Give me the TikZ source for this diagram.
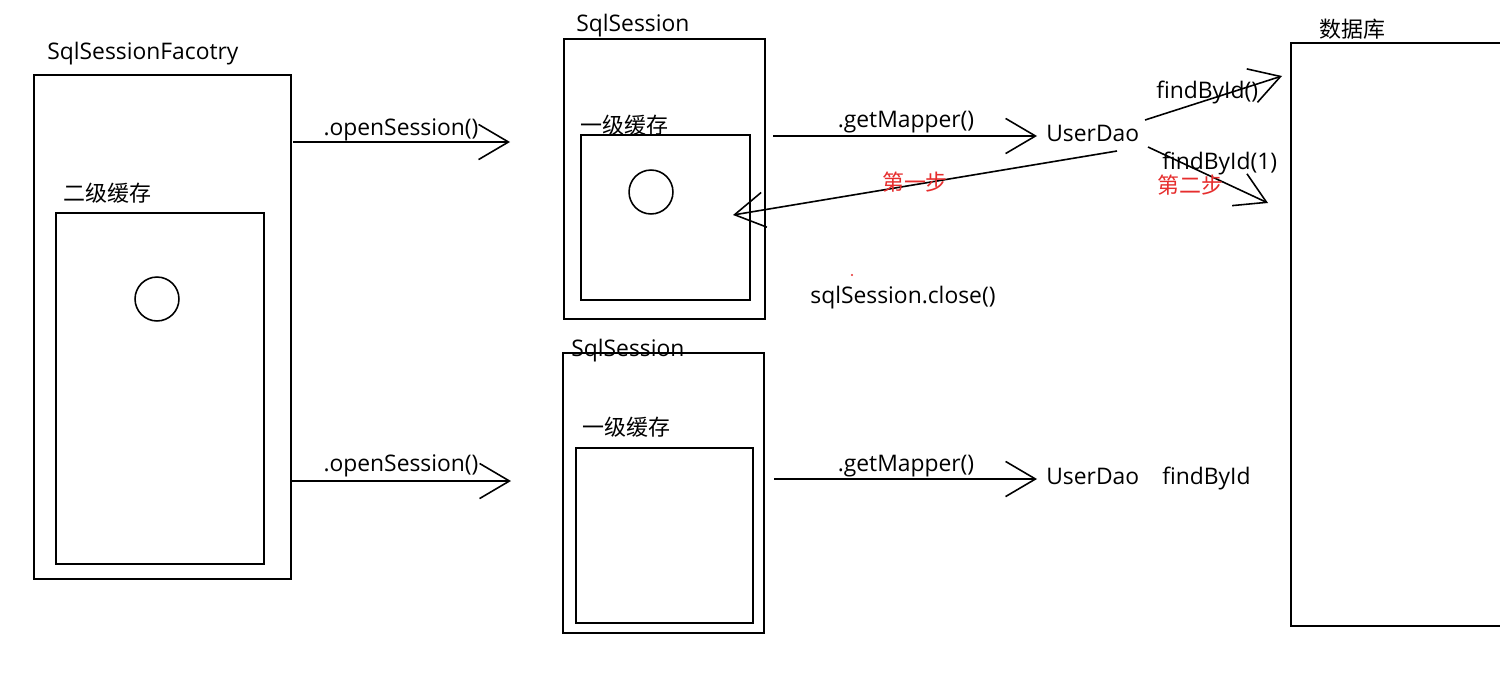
\documentclass[tikz,border=0pt]{standalone}
\usepackage{fontspec}
\setmainfont{Open Sans}
\newfontfamily\cjk{Noto Sans CJK SC}
\usetikzlibrary{arrows.meta}
\definecolor{redtxt}{RGB}{230,45,45}
\tikzset{
  box/.style={draw=black, line width=1.2pt, inner sep=0pt, anchor=north west},
  lbl/.style={inner sep=0pt, anchor=west, yshift=-0.04cm, font=\fontsize{13pt}{15pt}\selectfont},
  clbl/.style={lbl, font=\cjk\fontsize{12.5pt}{15pt}\selectfont},
  rlbl/.style={clbl, text=redtxt},
  flow/.style={draw=black, line width=0.9pt, -{Straight Barb[length=17pt, width=20pt, line width=0.9pt]}},
  cache/.style={draw=black, line width=0.9pt, circle, minimum size=25pt, inner sep=0pt}
}
\begin{document}
\begin{tikzpicture}[x=0.02cm, y=-0.02cm]
\useasboundingbox (0,0) rectangle (1500,690);
\fill[white] (0,0) rectangle (1500,690);

% SqlSessionFactory
\node[lbl] (ftitle) at (47,52) {SqlSessionFacotry};
\node[box, minimum width=257*0.02cm, minimum height=504*0.02cm] (fact) at (33,74) {};
\node[clbl] (l2title) at (63,191) {二级缓存};
\node[box, minimum width=208*0.02cm, minimum height=351*0.02cm] (l2) at (55,212) {};
\node[cache] (c2) at (157,299) {};

% Session 1
\node[lbl] (s1title) at (576,24) {SqlSession};
\node[box, minimum width=201*0.02cm, minimum height=280*0.02cm] (s1) at (563,38) {};
\node[clbl] (s1ct) at (580,123) {一级缓存};
\node[box, minimum width=169*0.02cm, minimum height=165*0.02cm] (s1c) at (580,134) {};
\node[cache] (c1) at (651,192) {};

% Session 2
\node[box, minimum width=201*0.02cm, minimum height=280*0.02cm] (s2) at (562,352) {};
\node[lbl] (s2title) at (571,349) {SqlSession};
\node[clbl] (s2ct) at (582,425) {一级缓存};
\node[box, minimum width=177*0.02cm, minimum height=175*0.02cm] (s2c) at (575,447) {};

% Database
\node[clbl] (dbtitle) at (1319,27) {数据库};
\node[box, minimum width=220*0.02cm, minimum height=583*0.02cm] (db) at (1290,42) {};

% UserDao nodes
\node[lbl] (ud1) at (1046,131) {UserDao};
\node[lbl] (ud2) at (1046,474) {UserDao};

% coordinates for arrow ends
\coordinate (o1s) at (293,142); \coordinate (o1e) at (510,142);
\coordinate (o2s) at (291,481); \coordinate (o2e) at (511,481);
\coordinate (g1s) at (773,136); \coordinate (g1e) at (1037,136);
\coordinate (g2s) at (774,479); \coordinate (g2e) at (1037,479);
\coordinate (f1s) at (1145,120); \coordinate (f1e) at (1282,76);
\coordinate (f2s) at (1148,147); \coordinate (f2e) at (1268,203);
\coordinate (r1s) at (1117,151); \coordinate (r1e) at (733,215);

\draw[flow] (o1s) -- (o1e);
\draw[flow] (o2s) -- (o2e);
\draw[flow] (g1s) -- (g1e);
\draw[flow] (g2s) -- (g2e);
\draw[flow] (f1s) -- (f1e);
\draw[flow] (f2s) -- (f2e);
\draw[flow] (r1s) -- (r1e);

% labels
\node[lbl, anchor=center] (o1l) at (401,128) {.openSession()};
\node[lbl, anchor=center] (o2l) at (401,464) {.openSession()};
\node[lbl, anchor=center] (g1l) at (906,120) {.getMapper()};
\node[lbl, anchor=center] (g2l) at (906,464) {.getMapper()};
\node[lbl] (f1l) at (1156,91) {findById()};
\node[lbl] (f2l) at (1162,162) {findById(1)};
\node[lbl] (f3l) at (1162,476) {findById};
\node[rlbl, anchor=center] (step1) at (915,180) {第一步};
\node[rlbl] (step2) at (1157,183) {第二步};
\node[lbl] (close) at (810,296) {sqlSession.close()};
\fill[redtxt] (852,275) circle (1.2);
\end{tikzpicture}
\end{document}
